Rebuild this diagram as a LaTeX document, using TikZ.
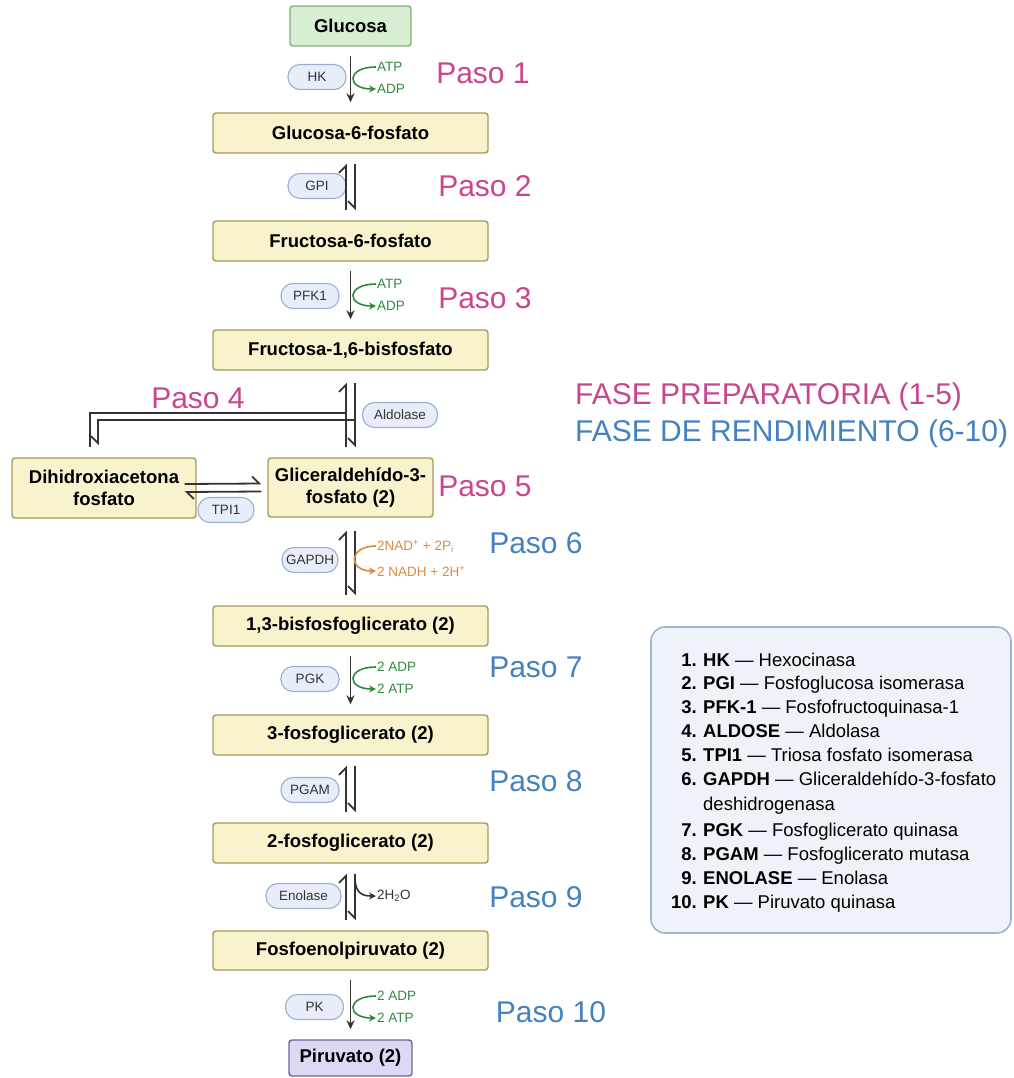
\documentclass[tikz,border=0pt]{standalone}
\usepackage{fontspec}
\setmainfont{Liberation Sans}
\usetikzlibrary{arrows.meta}
\definecolor{boxfill}{HTML}{F8F2CD}
\definecolor{boxline}{HTML}{A89A5C}
\definecolor{glufill}{HTML}{D8EED3}
\definecolor{gluline}{HTML}{7FB07A}
\definecolor{pyrfill}{HTML}{DDD9F4}
\definecolor{pyrline}{HTML}{6C6491}
\definecolor{pillfill}{HTML}{E7EEFA}
\definecolor{pillline}{HTML}{9BAED0}
\definecolor{legfill}{HTML}{EEF3FA}
\definecolor{legline}{HTML}{9FB3D3}
\definecolor{magen}{HTML}{C9468F}
\definecolor{bluet}{HTML}{4381BF}
\definecolor{grn}{HTML}{2F8A3C}
\definecolor{orng}{HTML}{D98B3F}
\definecolor{ink}{HTML}{333333}
\tikzset{
  metab/.style={draw=boxline, fill=boxfill, line width=1.4pt, rounded corners=3pt,
    minimum width=275pt, minimum height=40pt, inner sep=0pt, align=center,
    font=\fontsize{18.5}{22}\selectfont\bfseries, text=black},
  pill/.style={draw=pillline, fill=pillfill, line width=1.1pt, rounded corners=12pt,
    minimum width=58pt, minimum height=25pt, inner sep=0pt,
    font=\fontsize{13.5}{15}\selectfont, text=ink},
  paso/.style={font=\fontsize{30}{34}\selectfont, inner sep=0pt},
  side/.style={font=\fontsize{13.5}{15}\selectfont, inner sep=1pt, anchor=west},
  rxn/.style={line width=1.8pt, draw=ink},
  fwd/.style={rxn, -{Stealth[length=9pt,width=8pt]}},
  hL/.style={rxn, -{Straight Barb[left,length=7pt,width=14pt]}},
  hR/.style={rxn, -{Straight Barb[right,length=7pt,width=14pt]}},
  curv/.style={line width=1.6pt, -{Stealth[length=7pt,width=7pt]}},
  leg/.style={font=\fontsize{18.5}{22}\selectfont, inner sep=0pt, text=black},
}
\begin{document}
\begin{tikzpicture}[x=1pt,y=-1pt]
\useasboundingbox (0,0) rectangle (1013,1078);

% metabolites
\node[metab, draw=gluline, fill=glufill, minimum width=121pt] (glu) at (350.5,26) {Glucosa};
\node[metab] (g6p) at (350.5,133) {Glucosa-6-fosfato};
\node[metab] (f6p) at (350.5,241) {Fructosa-6-fosfato};
\node[metab] (f16) at (350.5,350) {Fructosa-1,6-bisfosfato};
\node[metab, minimum width=184pt, minimum height=60pt] (dhap) at (104,488) {Dihidroxiacetona\\fosfato};
\node[metab, minimum width=165pt, minimum height=59pt] (g3p) at (350.5,487.5) {Gliceraldehído-3-\\fosfato (2)};
\node[metab] (bpg) at (350.5,626) {1,3-bisfosfoglicerato (2)};
\node[metab] (pg3) at (350.5,735) {3-fosfoglicerato (2)};
\node[metab] (pg2) at (350.5,843) {2-fosfoglicerato (2)};
\node[metab, minimum height=39pt] (pep) at (350.5,950.5) {Fosfoenolpiruvato (2)};
\node[metab, draw=pyrline, fill=pyrfill, minimum width=123pt, minimum height=36pt] (pyr) at (350.5,1058) {Piruvato (2)};

% enzymes
\node[pill] (hk) at (317,77) {HK};
\node[pill] (gpi) at (317,186) {GPI};
\node[pill] (pfk) at (310,296) {PFK1};
\node[pill, minimum width=75pt] (ald) at (400,415) {Aldolase};
\node[pill, minimum width=56pt] (tpi) at (226,510) {TPI1};
\node[pill, minimum width=56pt] (gapdh) at (310,560) {GAPDH};
\node[pill] (pgk) at (310,679) {PGK};
\node[pill] (pgam) at (310,790) {PGAM};
\node[pill, minimum width=75pt] (eno) at (303.5,896) {Enolase};
\node[pill] (pk) at (314.5,1007) {PK};

% paso labels
\node[paso, text=magen] (p1) at (483,73) {Paso 1};
\node[paso, text=magen] (p2) at (485,186) {Paso 2};
\node[paso, text=magen] (p3) at (485,298) {Paso 3};
\node[paso, text=magen] (p4) at (198,398) {Paso 4};
\node[paso, text=magen] (p5) at (485,486) {Paso 5};
\node[paso, text=bluet] (p6) at (536,543) {Paso 6};
\node[paso, text=bluet] (p7) at (536,667) {Paso 7};
\node[paso, text=bluet] (p8) at (536,781) {Paso 8};
\node[paso, text=bluet] (p9) at (536,897) {Paso 9};
\node[paso, text=bluet] (p10) at (551,1012) {Paso 10};
\node[paso, text=magen, anchor=west] (fase1) at (575,397) {FASE PREPARATORIA (1-5)};
\node[paso, text=bluet, anchor=west] (fase2) at (575,434) {FASE DE RENDIMIENTO (6-10)};

% step 1
\draw[fwd] ([yshift=-9pt]glu.south) -- ([yshift=10pt]g6p.north);
\node[side, text=grn] (atp1) at (376,67) {ATP};
\node[side, text=grn] (adp1) at (376,89) {ADP};
\draw[curv, grn] (atp1.west) .. controls +(-30,0) and +(-30,0) .. (adp1.west);

% step 2
\draw[hL, shorten <=10pt, shorten >=10pt] ([xshift=-4.5pt]f6p.north) -- ([xshift=-4.5pt]g6p.south);
\draw[hR, shorten <=10pt, shorten >=10pt] ([xshift=4.5pt]g6p.south) -- ([xshift=4.5pt]f6p.north);

% step 3
\draw[fwd] ([yshift=-9pt]f6p.south) -- ([yshift=10pt]f16.north);
\node[side, text=grn] (atp3) at (376,284) {ATP};
\node[side, text=grn] (adp3) at (376,306) {ADP};
\draw[curv, grn] (atp3.west) .. controls +(-30,0) and +(-30,0) .. (adp3.west);

% step 4 (aldolase)
\coordinate (alOut) at (346,413);
\coordinate (alIn) at (355,420);
\draw[hL] ([xshift=-4.5pt,yshift=10pt]g3p.north) -- ([xshift=-4.5pt,yshift=-12pt]f16.south);
\draw[hR] ([xshift=4.5pt,yshift=-12pt]f16.south) -- ([xshift=4.5pt,yshift=10pt]g3p.north);
\draw[rxn] ([xshift=-14pt,yshift=10pt]dhap.north) |- (alOut);
\draw[hR] (alIn) -| ([xshift=-6pt,yshift=12pt]dhap.north);

% step 5 (TPI1)
\draw[hL] ([xshift=-12pt,yshift=4pt]dhap.east) -- ([xshift=-6pt,yshift=4pt]g3p.west);
\draw[hL] ([xshift=-6pt,yshift=-4pt]g3p.west) -- ([xshift=-12pt,yshift=-4pt]dhap.east);

% step 6 (GAPDH)
\draw[hL, shorten <=10pt, shorten >=13pt] ([xshift=-4.5pt]bpg.north) -- ([xshift=-4.5pt]g3p.south);
\draw[hR, shorten <=13pt, shorten >=10pt] ([xshift=4.5pt]g3p.south) -- ([xshift=4.5pt]bpg.north);
\node[side, text=orng] (nad) at (376,546) {2NAD\textsuperscript{+} + 2P\textsubscript{i}};
\node[side, text=orng] (nadh) at (376,571) {2 NADH + 2H\textsuperscript{+}};
\draw[curv, orng] (nad.west) .. controls +(-28,0) and +(-28,0) .. (nadh.west);

% step 7
\draw[fwd] ([yshift=-9pt]bpg.south) -- ([yshift=10pt]pg3.north);
\node[side, text=grn] (adp7) at (376,667) {2 ADP};
\node[side, text=grn] (atp7) at (376,689) {2 ATP};
\draw[curv, grn] (adp7.west) .. controls +(-30,0) and +(-30,0) .. (atp7.west);

% step 8
\draw[hL, shorten <=10pt, shorten >=10pt] ([xshift=-4.5pt]pg2.north) -- ([xshift=-4.5pt]pg3.south);
\draw[hR, shorten <=10pt, shorten >=10pt] ([xshift=4.5pt]pg3.south) -- ([xshift=4.5pt]pg2.north);

% step 9
\draw[hL, shorten <=10pt, shorten >=10pt] ([xshift=-4.5pt]pep.north) -- ([xshift=-4.5pt]pg2.south);
\draw[hR, shorten <=10pt, shorten >=10pt] ([xshift=4.5pt]pg2.south) -- ([xshift=4.5pt]pep.north);
\coordinate (enoS) at (355,880);
\node[side, text=ink] (h2o) at (376,896) {2H\textsubscript{2}O};
\draw[curv, ink] (enoS) .. controls (356,893) and (362,896) .. (h2o.west);

% step 10
\draw[fwd] ([yshift=-9pt]pep.south) -- ([yshift=10pt]pyr.north);
\node[side, text=grn] (adp10) at (376,996) {2 ADP};
\node[side, text=grn] (atp10) at (376,1018) {2 ATP};
\draw[curv, grn] (adp10.west) .. controls +(-30,0) and +(-30,0) .. (atp10.west);

% legend
\draw[draw=legline, fill=legfill, line width=1.6pt, rounded corners=14pt] (651,627) rectangle (1011,933);
\foreach \n/\y/\t in {1./660/{\textbf{HK} — Hexocinasa},
  2./683/{\textbf{PGI} — Fosfoglucosa isomerasa},
  3./707/{\textbf{PFK-1} — Fosfofructoquinasa-1},
  4./731/{\textbf{ALDOSE} — Aldolasa},
  5./755/{\textbf{TPI1} — Triosa fosfato isomerasa},
  6./779/{\textbf{GAPDH} — Gliceraldehído-3-fosfato},
  7./830/{\textbf{PGK} — Fosfoglicerato quinasa},
  8./854/{\textbf{PGAM} — Fosfoglicerato mutasa},
  9./878/{\textbf{ENOLASE} — Enolasa},
  10./902/{\textbf{PK} — Piruvato quinasa}}{
  \node[leg, anchor=base east, font=\fontsize{18.5}{22}\selectfont\bfseries] (num\n) at (697,\y+6.5) {\n};
  \node[leg, anchor=base west] (lab\n) at (703,\y+6.5) {\t};
}
\node[leg, anchor=base west] (lab6b) at (703,810.5) {deshidrogenasa};
\end{tikzpicture}
\end{document}
